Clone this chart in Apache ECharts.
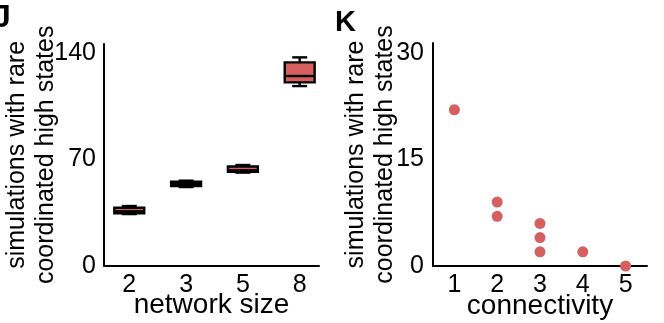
<!DOCTYPE html>
<html>
<head>
<meta charset="utf-8">
<script src="https://cdn.jsdelivr.net/npm/echarts@6/dist/echarts.min.js"></script>
<style>
html,body{margin:0;padding:0;background:#fff;}
#c{width:664px;height:323px;}
</style>
</head>
<body>
<div id="c"></div>
<script>
// Panel J: box plots by network size
const sizeCategories = ['2', '3', '5', '8'];
const whiskerLow  = [34.0, 51.8, 61.3, 118.3];
const q1          = [34.5, 52.5, 61.8, 120.7];
const median      = [35.8, 53.8, 62.8, 124.9];
const q3          = [38.2, 55.3, 65.3, 133.9];
const whiskerHigh = [39.3, 56.0, 66.3, 137.2];
const leftYTicks = [0, 70, 140];

// Panel K: scatter by connectivity
const connectivityCategories = ['1', '2', '3', '4', '5'];
const connX = ['1', '2', '2', '3', '3', '3', '4', '5'];
const connY = [22, 9, 7, 6, 4, 2, 2, 0];
const rightYTicks = [0, 15, 30];

const RED = '#d65f5f';
const FONT = 'Liberation Sans, Arial, sans-serif';

const boxData = sizeCategories.map((c, i) => [i + 1, whiskerLow[i], q1[i], median[i], q3[i], whiskerHigh[i]]);
const scatterData = connX.map((c, i) => [c, connY[i]]);

function renderBox(params, api) {
  const x = api.value(0);
  const pLo = api.coord([x, api.value(1)]);
  const pQ1 = api.coord([x, api.value(2)]);
  const pMed = api.coord([x, api.value(3)]);
  const pQ3 = api.coord([x, api.value(4)]);
  const pHi = api.coord([x, api.value(5)]);
  const bw = api.size([0.527, 0])[0];
  const cw = bw / 2;
  const cx = pMed[0];
  const ls = { stroke: '#000', lineWidth: 2.4 };
  return {
    type: 'group',
    children: [
      { type: 'line', shape: { x1: cx, y1: pLo[1], x2: cx, y2: pQ1[1] }, style: ls },
      { type: 'line', shape: { x1: cx, y1: pQ3[1], x2: cx, y2: pHi[1] }, style: ls },
      { type: 'line', shape: { x1: cx - cw / 2, y1: pLo[1], x2: cx + cw / 2, y2: pLo[1] }, style: ls },
      { type: 'line', shape: { x1: cx - cw / 2, y1: pHi[1], x2: cx + cw / 2, y2: pHi[1] }, style: ls },
      { type: 'rect', shape: { x: cx - bw / 2, y: pQ3[1], width: bw, height: pQ1[1] - pQ3[1] },
        style: { fill: RED, stroke: '#000', lineWidth: 2.4 } },
      { type: 'line', shape: { x1: cx - bw / 2, y1: pMed[1], x2: cx + bw / 2, y2: pMed[1] }, style: ls }
    ]
  };
}

const axisLineStyle = { show: true, lineStyle: { color: '#000', width: 2 } };
const tickLabelStyle = { color: '#000', fontSize: 25, fontFamily: FONT };
const nameStyle = { color: '#000', fontSize: 25, fontFamily: FONT, lineHeight: 29 };
const xNameStyle = { color: '#000', fontSize: 28, fontFamily: FONT };

const chart = echarts.init(document.getElementById('c'), null, { renderer: 'canvas' });
chart.setOption({
  animation: false,
  backgroundColor: '#fff',
  graphic: [
    { type: 'text', left: -7, top: 2, style: { text: 'J', fontSize: 32, fontWeight: 'bold', fill: '#000', fontFamily: FONT } },
    { type: 'text', left: 335, top: 8, style: { text: 'K', fontSize: 29, fontWeight: 'bold', fill: '#000', fontFamily: FONT } }
  ],
  grid: [
    { left: 104, top: 44, width: 215, bottom: 57.3, containLabel: false, outerBoundsMode: 'none' },
    { left: 433, top: 43, width: 214, bottom: 57, containLabel: false, outerBoundsMode: 'none' }
  ],
  xAxis: [
    {
      gridIndex: 0, type: 'value', min: 0.555, max: 4.34,
      axisLine: axisLineStyle, axisTick: { show: false }, splitLine: { show: false },
      axisLabel: Object.assign({ margin: 7, customValues: [1, 2, 3, 4], formatter: v => sizeCategories[Math.round(v) - 1] }, tickLabelStyle),
      name: 'network size', nameLocation: 'middle', nameGap: 26, nameMoveOverlap: false, nameTextStyle: xNameStyle
    },
    {
      gridIndex: 1, type: 'category', data: connectivityCategories, boundaryGap: true,
      axisLine: axisLineStyle, axisTick: { show: false }, splitLine: { show: false },
      axisLabel: Object.assign({ margin: 7 }, tickLabelStyle),
      name: 'connectivity', nameLocation: 'middle', nameGap: 26, nameMoveOverlap: false, nameTextStyle: xNameStyle
    }
  ],
  yAxis: [
    {
      gridIndex: 0, type: 'value', min: 0, max: 146,
      axisLine: axisLineStyle, axisTick: { show: false }, splitLine: { show: false },
      axisLabel: Object.assign({ margin: 8, customValues: leftYTicks }, tickLabelStyle),
      name: 'simulations with rare\ncoordinated high states', nameLocation: 'middle', nameGap: 43, nameMoveOverlap: false, nameTextStyle: nameStyle
    },
    {
      gridIndex: 1, type: 'value', min: 0, max: 31.4,
      axisLine: axisLineStyle, axisTick: { show: false }, splitLine: { show: false },
      axisLabel: Object.assign({ margin: 9, customValues: rightYTicks }, tickLabelStyle),
      name: 'simulations with rare\ncoordinated high states', nameLocation: 'middle', nameGap: 33, nameMoveOverlap: false, nameTextStyle: nameStyle
    }
  ],
  series: [
    { type: 'custom', xAxisIndex: 0, yAxisIndex: 0, renderItem: renderBox, data: boxData, encode: { x: 0, y: [1, 2, 3, 4, 5] }, clip: false },
    { type: 'scatter', xAxisIndex: 1, yAxisIndex: 1, data: scatterData, symbolSize: 11, itemStyle: { color: RED, opacity: 1 }, clip: false }
  ]
});
</script>
</body>
</html>
